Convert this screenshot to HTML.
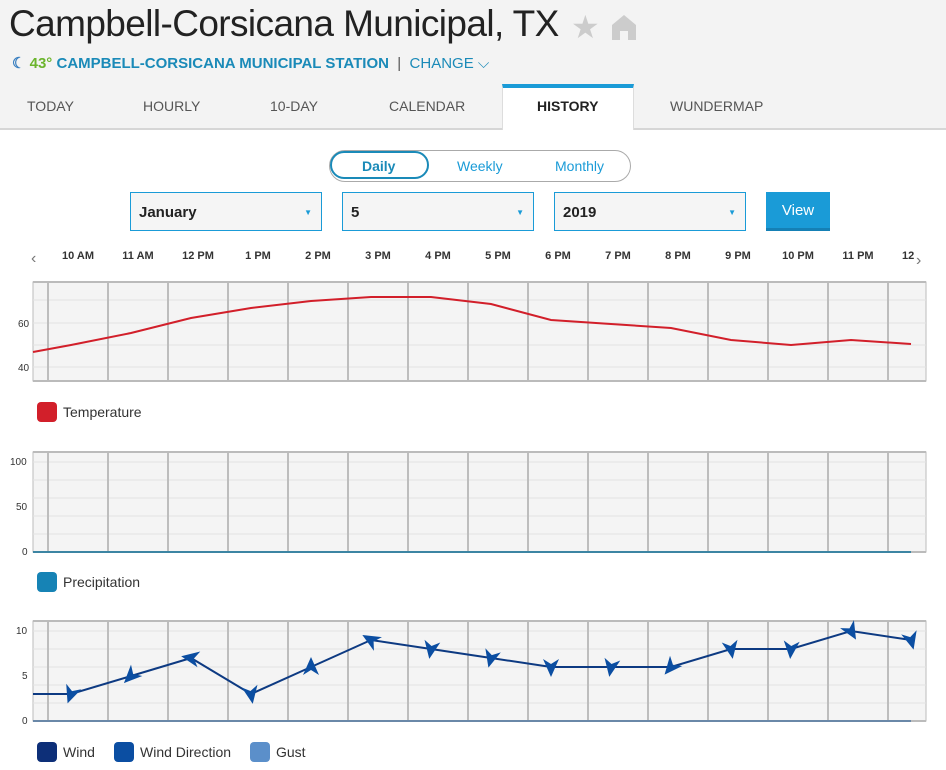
<!DOCTYPE html>
<html><head><meta charset="utf-8"><style>
body{margin:0;width:946px;height:770px;overflow:hidden;background:#fff;font-family:"Liberation Sans",Arial,sans-serif;position:relative}
.hdr{position:absolute;left:0;top:0;width:946px;height:128px;background:#f3f3f3;border-bottom:2px solid #d6d6d6}
.title{position:absolute;left:9px;top:3px;font-size:37px;color:#222;letter-spacing:-0.6px}
.sub{position:absolute;left:12px;top:54px;font-size:15px;font-weight:bold;color:#1a8ab8}
.tab{position:absolute;top:98px;font-size:14px;color:#555}
.hist{position:absolute;left:502px;top:84px;width:132px;height:46px;background:#fff;border-top:4px solid #1a9bd7;box-sizing:border-box;border-left:1px solid #ddd;border-right:1px solid #ddd}
.seg{position:absolute;left:329px;top:150px;width:302px;height:32px;border:1px solid #aaa;border-radius:17px;box-sizing:border-box}
.sel{position:absolute;top:192px;height:39px;border:1px solid #1a9bd7;background:#f5f5f5;box-sizing:border-box;font-weight:bold;font-size:15px;padding:11px 0 0 8px;color:#222}
.sel:after{content:"▼";position:absolute;right:9px;top:15px;font-size:8px;color:#1a9bd7}
.lg{position:absolute;font-size:14px;color:#333}
.lg i{position:absolute;left:-26px;top:-2px;width:20px;height:20px;border-radius:4px}
</style></head><body>
<div class="hdr"></div>
<div class="title">Campbell-Corsicana Municipal, TX</div>
<div style="position:absolute;left:571px;top:8px;font-size:32px;color:#ccc">★</div>
<svg style="position:absolute;left:610px;top:13px" width="28" height="28"><path d="M2 12 L14 2 L26 12 V27 H18 V18 H10 V27 H2Z" fill="#ccc"/></svg>
<div class="sub"><span style="color:#3a7fc0">☾</span> <span style="color:#6cb52d">43°</span> CAMPBELL-CORSICANA MUNICIPAL STATION <span style="color:#555;font-weight:normal">&nbsp;|&nbsp;</span> <span style="font-weight:normal">CHANGE ⌵</span></div>
<div class="hist"></div>
<div class="tab" style="left:27px">TODAY</div>
<div class="tab" style="left:143px">HOURLY</div>
<div class="tab" style="left:270px">10-DAY</div>
<div class="tab" style="left:389px">CALENDAR</div>
<div class="tab" style="left:537px;color:#222;font-weight:bold">HISTORY</div>
<div class="tab" style="left:670px">WUNDERMAP</div>
<div class="seg"></div>
<div style="position:absolute;left:330px;top:151px;width:99px;height:28px;border:2px solid #1a8ab8;border-radius:15px;box-sizing:border-box"></div>
<div style="position:absolute;left:362px;top:158px;font-size:14px;font-weight:bold;color:#1a8ab8">Daily</div>
<div style="position:absolute;left:457px;top:158px;font-size:14px;color:#1a9bd7">Weekly</div>
<div style="position:absolute;left:555px;top:158px;font-size:14px;color:#1a9bd7">Monthly</div>
<div class="sel" style="left:130px;width:192px">January</div>
<div class="sel" style="left:342px;width:192px">5</div>
<div class="sel" style="left:554px;width:192px">2019</div>
<div style="position:absolute;left:766px;top:192px;width:64px;height:39px;background:#1a9bd7;border-bottom:3px solid #1580b5;box-sizing:border-box;color:#fff;font-size:15px;text-align:center;line-height:38px">View</div>
<svg style="position:absolute;left:0;top:240px" width="946" height="530" font-family="Liberation Sans,Arial,sans-serif">
<defs>
<pattern id="g" x="48" y="0" width="60" height="530" patternUnits="userSpaceOnUse"><rect x="-1" y="0" width="2" height="530" fill="#bdbdbd"/><rect x="59" y="0" width="2" height="530" fill="#bdbdbd"/></pattern>
<path id="a" d="M0 10 L-8 -8 L0 -3 L8 -8Z" fill="#0b4ea2"/>
</defs>
<text x="31" y="23" font-size="16" fill="#777">‹</text>
<g font-size="11" font-weight="bold" fill="#333" text-anchor="middle">
<text x="78" y="19">10 AM</text><text x="138" y="19">11 AM</text><text x="198" y="19">12 PM</text><text x="258" y="19">1 PM</text><text x="318" y="19">2 PM</text><text x="378" y="19">3 PM</text><text x="438" y="19">4 PM</text><text x="498" y="19">5 PM</text><text x="558" y="19">6 PM</text><text x="618" y="19">7 PM</text><text x="678" y="19">8 PM</text><text x="738" y="19">9 PM</text><text x="798" y="19">10 PM</text><text x="858" y="19">11 PM</text><text x="902" y="19" text-anchor="start">12</text></g>
<rect x="914" y="5" width="32" height="22" fill="#fff"/>
<text x="916" y="25" font-size="16" fill="#777">›</text>
<g transform="translate(0,42)">
<rect x="33" y="0" width="893" height="99" fill="#f4f4f4" stroke="#bbb"/>
<g stroke="#e2e2e2"><line x1="33" x2="926" y1="18" y2="18"/><line x1="33" x2="926" y1="41" y2="41"/><line x1="33" x2="926" y1="63" y2="63"/><line x1="33" x2="926" y1="85" y2="85"/></g>
<rect x="33" y="0" width="893" height="99" fill="url(#g)"/>
<line x1="33" x2="926" y1="0" y2="0" stroke="#bbb" stroke-width="2"/><line x1="33" x2="926" y1="99" y2="99" stroke="#bbb" stroke-width="2"/>
<text x="18" y="45" font-size="10" fill="#333">60</text><text x="18" y="89" font-size="10" fill="#333">40</text>
<polyline fill="none" stroke="#d21f2a" stroke-width="2" points="33,70 71,63 131,51 191,36 251,26 311,19 371,15 431,15 491,22 551,38 611,42 671,46 731,58 791,63 851,58 911,62"/>
</g>
<g transform="translate(0,212)">
<rect x="33" y="0" width="893" height="100" fill="#f4f4f4" stroke="#bbb"/>
<g stroke="#e2e2e2"><line x1="33" x2="926" y1="10" y2="10"/><line x1="33" x2="926" y1="28" y2="28"/><line x1="33" x2="926" y1="46" y2="46"/><line x1="33" x2="926" y1="64" y2="64"/><line x1="33" x2="926" y1="82" y2="82"/></g>
<rect x="33" y="0" width="893" height="100" fill="url(#g)"/>
<line x1="33" x2="926" y1="0" y2="0" stroke="#bbb" stroke-width="2"/><line x1="33" x2="926" y1="100" y2="100" stroke="#bbb" stroke-width="2"/>
<line x1="33" x2="911" y1="100" y2="100" stroke="#3c85a3" stroke-width="2"/>
<text x="10" y="13" font-size="10" fill="#333">100</text><text x="16" y="58" font-size="10" fill="#333">50</text><text x="22" y="103" font-size="10" fill="#333">0</text>
</g>
<g transform="translate(0,381)">
<rect x="33" y="0" width="893" height="100" fill="#f4f4f4" stroke="#bbb"/>
<g stroke="#e2e2e2"><line x1="33" x2="926" y1="10" y2="10"/><line x1="33" x2="926" y1="28" y2="28"/><line x1="33" x2="926" y1="46" y2="46"/><line x1="33" x2="926" y1="64" y2="64"/><line x1="33" x2="926" y1="82" y2="82"/></g>
<rect x="33" y="0" width="893" height="100" fill="url(#g)"/>
<line x1="33" x2="926" y1="0" y2="0" stroke="#bbb" stroke-width="2"/><line x1="33" x2="926" y1="100" y2="100" stroke="#bbb" stroke-width="2"/>
<line x1="33" x2="911" y1="100" y2="100" stroke="#6a88a8" stroke-width="2"/>
<text x="16" y="13" font-size="10" fill="#333">10</text><text x="22" y="58" font-size="10" fill="#333">5</text><text x="22" y="103" font-size="10" fill="#333">0</text>
<polyline fill="none" stroke="#0d3a82" stroke-width="2" points="33,73 71,73 131,55 191,37 251,73 311,46 371,19 431,28 491,37 551,46 611,46 671,46 731,28 791,28 851,10 911,19"/>
<use href="#a" transform="translate(71,73) rotate(20)"/>
<use href="#a" transform="translate(131,55) rotate(45)"/>
<use href="#a" transform="translate(191,37) rotate(100)"/>
<use href="#a" transform="translate(251,73) rotate(-10)"/>
<use href="#a" transform="translate(311,46) rotate(180)"/>
<use href="#a" transform="translate(371,19) rotate(120)"/>
<use href="#a" transform="translate(431,28) rotate(10)"/>
<use href="#a" transform="translate(491,37) rotate(15)"/>
<use href="#a" transform="translate(551,46) rotate(0)"/>
<use href="#a" transform="translate(611,46) rotate(10)"/>
<use href="#a" transform="translate(671,46) rotate(40)"/>
<use href="#a" transform="translate(731,28) rotate(-10)"/>
<use href="#a" transform="translate(791,28) rotate(5)"/>
<use href="#a" transform="translate(851,10) rotate(-30)"/>
<use href="#a" transform="translate(911,19) rotate(-15)"/>
</g>
</svg>
<div class="lg" style="left:63px;top:404px"><i style="background:#d21f2a"></i>Temperature</div>
<div class="lg" style="left:63px;top:574px"><i style="background:#1683b5"></i>Precipitation</div>
<div class="lg" style="left:63px;top:744px"><i style="background:#0d2f78"></i>Wind</div>
<div class="lg" style="left:140px;top:744px"><i style="background:#0b4ea2"></i>Wind Direction</div>
<div class="lg" style="left:276px;top:744px"><i style="background:#5b8fca"></i>Gust</div>
</body></html>
